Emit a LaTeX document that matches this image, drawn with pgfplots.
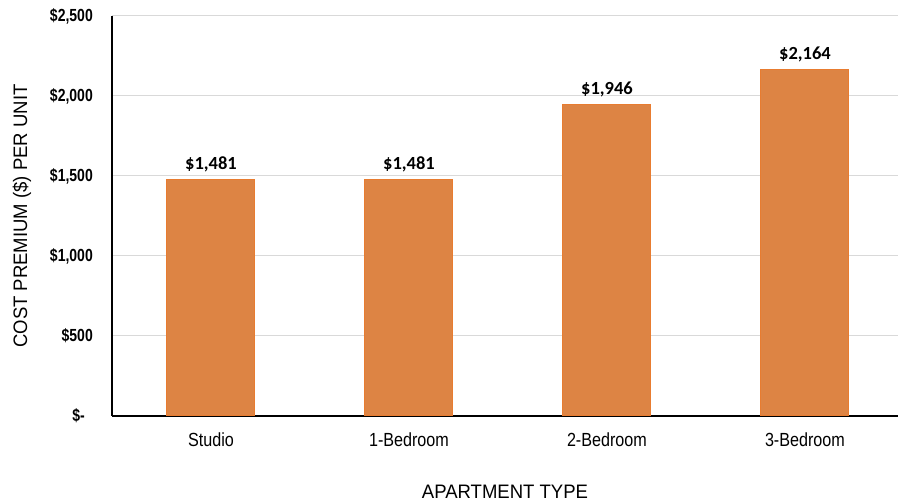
\documentclass[border=0pt]{standalone}
\usepackage{pgfplots}
\pgfplotsset{compat=1.18}
\usepackage{fontspec}
\setmainfont{Liberation Sans}
\newfontfamily\narrowfont[FakeStretch=0.85]{Liberation Sans}
\newfontfamily\ticknarrow[FakeStretch=0.8]{Liberation Sans}
\newfontfamily\labelfont[FakeStretch=0.95]{Liberation Sans}
\newfontfamily\calib{Carlito}
\definecolor{barfill}{RGB}{221,132,68}
\definecolor{baredge}{RGB}{232,124,48}
\definecolor{gridc}{RGB}{217,217,217}
\begin{document}
\begin{tikzpicture}
\path[use as bounding box] (0,0) rectangle (898pt,503pt);
\begin{axis}[
  at={(112pt,87pt)}, anchor=south west,
  scale only axis, width=786pt, height=400pt,
  xmin=-0.5, xmax=3.47, ymin=0, ymax=2500,
  axis lines*=left,
  axis line style={black, line width=1.6pt},
  ybar, bar width=88pt,
  xtick={0,1,2,3},
  xticklabels={Studio,1-Bedroom,2-Bedroom,3-Bedroom},
  ytick={0,500,1000,1500,2000,2500},
  yticklabels={{\$-\kern8pt},{\$500},{\$1,000},{\$1,500},{\$2,000},{\$2,500}},
  major tick length=0pt,
  ymajorgrids, grid style={gridc, line width=1pt},
  yticklabel style={font=\ticknarrow\bfseries\fontsize{17.5}{17.5}\selectfont, inner sep=0pt, xshift=-19pt, anchor=east},
  xticklabel style={font=\narrowfont\fontsize{19}{19}\selectfont, inner sep=0pt, anchor=north, yshift=-17pt},
  xlabel={APARTMENT TYPE},
  ylabel={COST PREMIUM (\$) PER UNIT},
  every axis x label/.style={at={(axis description cs:0.5,-0.19)}, anchor=center, font=\labelfont\fontsize{19.5}{19.5}\selectfont, inner sep=0pt},
  every axis y label/.style={at={(axis description cs:-0.1145,0.5)}, rotate=90, anchor=center, font=\labelfont\fontsize{19.5}{19.5}\selectfont, inner sep=0pt},
  point meta=explicit symbolic,
  nodes near coords,
  nodes near coords style={font=\calib\bfseries\fontsize{18.5}{18.5}\selectfont, anchor=base, inner sep=0pt, yshift=10pt, black},
  clip=false,
]
\addplot[fill=barfill, draw=baredge, line width=1pt] coordinates {
  (0,1481) [\$1,481]
  (1,1481) [\$1,481]
  (2,1946) [\$1,946]
  (3,2164) [\$2,164]
};
\end{axis}
\end{tikzpicture}
\end{document}
